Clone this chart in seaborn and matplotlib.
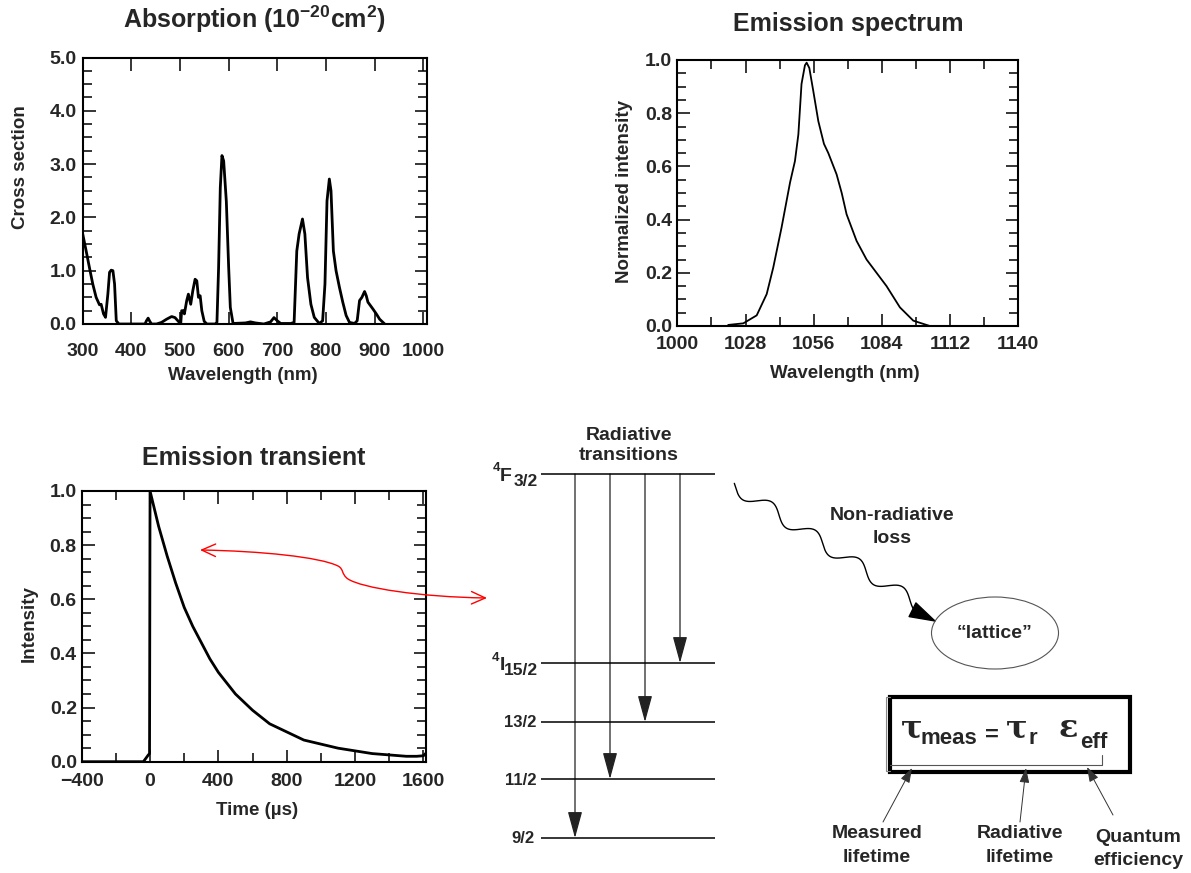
import matplotlib
matplotlib.use("Agg")
import matplotlib.pyplot as plt
import seaborn as sns
import numpy as np
from matplotlib.patches import FancyArrowPatch, Ellipse, Rectangle
from matplotlib.path import Path
from matplotlib.ticker import FixedLocator, FuncFormatter

# ---------------- data ----------------
abs_wl = [300, 306.9, 313.8, 320.7, 327.6, 334.5, 337.9, 342.8, 346.9, 351.7, 355.2, 358.6,
          362.1, 365.5, 369, 374.5, 428, 431, 434.5, 437.9, 441.4, 451.7, 462, 472.4, 482.8,
          489.7, 496.6, 501.4, 503.4, 506.9, 509, 513.8, 517.2, 522, 526.2, 531, 534.5, 537.9,
          541.4, 544.8, 549.7, 555.2, 572.4, 575.9, 579.3, 582.8, 586.2, 589.7, 595.2, 600,
          603.4, 609, 634.5, 644.8, 655, 672.4, 686.2, 693.1, 700, 706.9, 727.6, 734.5, 740,
          744.8, 751.7, 756.6, 762.1, 769, 775.9, 786.2, 793.1, 797.9, 802.1, 806.9, 810.3,
          815.2, 820.7, 827.6, 834.5, 841.4, 848.3, 858.6, 864.1, 869, 873.8, 879.3, 882.8,
          886.2, 896.6, 903.4, 910.3, 920.7]
abs_cs = [1.69, 1.38, 1.06, 0.75, 0.5, 0.36, 0.37, 0.19, 0.125, 0.56, 0.97, 1.01,
          1.0, 0.75, 0.06, 0.0, 0.0, 0.06, 0.11, 0.05, 0.0, 0.0, 0.03, 0.09, 0.14,
          0.12, 0.05, 0.0, 0.25, 0.25, 0.19, 0.44, 0.56, 0.37, 0.62, 0.84, 0.81, 0.5,
          0.53, 0.25, 0.05, 0.0, 0.0, 0.03, 1.06, 2.56, 3.16, 3.06, 2.3, 1.06,
          0.31, 0.01, 0.02, 0.04, 0.02, 0.0, 0.04, 0.12, 0.06, 0.01, 0.01, 0.03, 1.37,
          1.69, 1.97, 1.69, 0.87, 0.37, 0.125, 0.01, 0.06, 0.75, 2.31, 2.72, 2.5,
          1.37, 1.0, 0.69, 0.41, 0.16, 0.03, 0.01, 0.06, 0.44, 0.5, 0.61, 0.53,
          0.41, 0.28, 0.19, 0.09, 0.0]
abs_xticks = [300, 400, 500, 600, 700, 800, 900, 1000]
abs_yticks = [0.0, 1.0, 2.0, 3.0, 4.0, 5.0]

em_wl = [1020.9, 1027.1, 1032.6, 1036.7, 1039.4, 1042.8, 1046.3, 1048.3, 1049.7, 1051.0,
         1052.4, 1053.1, 1054.2, 1055.8, 1057.9, 1060.2, 1062.0, 1065.4, 1067.5, 1069.5,
         1073.6, 1077.7, 1081.8, 1085.9, 1091.4, 1096.9, 1103.7]
em_int = [0.004, 0.01, 0.04, 0.12, 0.22, 0.37, 0.54, 0.62, 0.72, 0.91,
          0.98, 0.99, 0.97, 0.885, 0.77, 0.685, 0.65, 0.57, 0.50, 0.42,
          0.32, 0.25, 0.20, 0.15, 0.07, 0.02, 0.0]
em_xticks = [1000, 1028, 1056, 1084, 1112, 1140]
em_xminor = [1014, 1042, 1070, 1098, 1126]
em_yticks = [0.0, 0.2, 0.4, 0.6, 0.8, 1.0]

tr_t = [-400, -39, -10, -3, 0, 50, 100, 150, 200, 250, 300, 350, 400, 500, 600, 700, 800,
        900, 1000, 1100, 1200, 1300, 1400, 1500, 1560, 1600, 1612]
tr_i = [0, 0, 0.025, 0.03, 1.0, 0.87, 0.76, 0.66, 0.57, 0.50, 0.44, 0.38, 0.33, 0.25, 0.19,
        0.14, 0.11, 0.08, 0.065, 0.05, 0.04, 0.03, 0.025, 0.02, 0.02, 0.022, 0.03]
tr_xticks = [-400, 0, 400, 800, 1200, 1600]
tr_xminor = [-200, 200, 600, 1000, 1400]
tr_yticks = [0.0, 0.2, 0.4, 0.6, 0.8, 1.0]

# energy-level diagram
level_y = [474, 663, 722, 779, 838]          # 4F3/2, 4I15/2, 13/2, 11/2, 9/2
trans_x = [575, 610, 645, 680]
trans_to = [838, 779, 722, 663]

# ---------------- style ----------------
sns.set_style("ticks")
plt.rcParams["font.family"] = ["Liberation Sans", "DejaVu Sans"]
plt.rcParams["font.weight"] = "bold"
plt.rcParams["axes.labelweight"] = "bold"
plt.rcParams["axes.titleweight"] = "bold"
plt.rcParams["mathtext.fontset"] = "custom"
for k in ["rm", "it", "bf", "sf"]:
    plt.rcParams["mathtext." + k] = "Liberation Sans:bold"

W, H = 1191, 873
fig = plt.figure(figsize=(W / 100, H / 100), dpi=100)
fig.patch.set_facecolor("white")


def px_axes(left, top, right, bottom):
    return fig.add_axes([left / W, 1 - bottom / H, (right - left) / W, (bottom - top) / H])


def fmt(decimals):
    def f(v, pos):
        s = f"{v:.{decimals}f}"
        return s.replace("-", "\u2212")
    return FuncFormatter(f)


def minor_steps(lo, hi, step):
    vals = []
    v = lo
    while v <= hi + 1e-9:
        vals.append(round(v, 4))
        v += step
    return vals


def style(ax, xt, xm, yt, ym, xdec, ydec, xpad, ypad):
    for s in ax.spines.values():
        s.set_visible(True)
        s.set_linewidth(1.5)
        s.set_color("black")
    ax.xaxis.set_major_locator(FixedLocator(xt))
    if xm:
        ax.xaxis.set_minor_locator(FixedLocator(xm))
    ax.yaxis.set_major_locator(FixedLocator(yt))
    ax.yaxis.set_minor_locator(FixedLocator(ym))
    ax.xaxis.set_major_formatter(fmt(xdec))
    ax.yaxis.set_major_formatter(fmt(ydec))
    ax.tick_params(which="both", direction="in", top=True, right=True, bottom=True,
                   left=True, width=1.1, color="black", labelsize=14)
    ax.tick_params(which="major", length=9)
    ax.tick_params(which="minor", length=6.5)
    ax.tick_params(axis="x", which="both", pad=xpad)
    ax.tick_params(axis="y", which="both", pad=ypad)
    for lab in ax.get_xticklabels() + ax.get_yticklabels():
        lab.set_fontweight("bold")


# Absorption
ax1 = px_axes(82.7, 57.5, 426.7, 324)
sns.lineplot(x=abs_wl, y=abs_cs, ax=ax1, color="black", linewidth=2.0, estimator=None, sort=False)
ax1.set_xlim(300, 1007)
ax1.set_ylim(0, 5)
style(ax1, abs_xticks, None, abs_yticks, minor_steps(0, 5, 0.25), 0, 1, 13.5, 4.5)
ax1.set_title("Absorption (10$^{-20}$cm$^{2}$)", fontsize=18, fontweight="bold", pad=21)
ax1.set_xlabel("Wavelength (nm)", fontsize=13.5)
ax1.set_ylabel("Cross section", fontsize=13.5)
ax1.xaxis.set_label_coords(0.466, -0.161)
ax1.yaxis.set_label_coords(-0.156, 0.589)

# Emission spectrum
ax2 = px_axes(677.3, 60, 1018.3, 326)
sns.lineplot(x=em_wl, y=em_int, ax=ax2, color="black", linewidth=1.3, estimator=None, sort=False)
ax2.set_xlim(1000, 1140)
ax2.set_ylim(0, 1.0)
style(ax2, em_xticks, em_xminor, em_yticks, minor_steps(0, 1, 0.05), 0, 1, 7.5, 3.8)
ax2.set_title("Emission spectrum", fontsize=18, fontweight="bold", pad=21)
ax2.set_xlabel("Wavelength (nm)", fontsize=13.5)
ax2.set_ylabel("Normalized intensity", fontsize=13.5)
ax2.xaxis.set_label_coords(0.492, -0.147)
ax2.yaxis.set_label_coords(-0.130, 0.504)

# Emission transient
ax3 = px_axes(81.7, 491, 426, 761.7)
sns.lineplot(x=tr_t, y=tr_i, ax=ax3, color="black", linewidth=2.0, estimator=None, sort=False)
ax3.set_xlim(-400, 1615)
ax3.set_ylim(0, 1.0)
style(ax3, tr_xticks, tr_xminor, tr_yticks, minor_steps(0, 1, 0.05), 0, 1, 8.2, 3.5)
ax3.set_title("Emission transient", fontsize=18, fontweight="bold", pad=19)
ax3.set_xlabel("Time (\u00b5s)", fontsize=13.5)
ax3.set_ylabel("Intensity", fontsize=13.5)
ax3.xaxis.set_label_coords(0.509, -0.149)
ax3.yaxis.set_label_coords(-0.127, 0.512)

# ---------------- diagram overlay (pixel coordinates) ----------------
ov = fig.add_axes([0, 0, 1, 1], zorder=10)
ov.set_xlim(0, W)
ov.set_ylim(H, 0)
ov.axis("off")
ov.patch.set_alpha(0)

# energy levels
ov.hlines(level_y, 541, 715, color="black", lw=1.1)
for x, yt in zip(trans_x, trans_to):
    ov.add_patch(FancyArrowPatch((x, level_y[0]), (x, yt),
                                 arrowstyle="-|>,head_length=1.65,head_width=0.45",
                                 mutation_scale=10, lw=0.9, color="#222222",
                                 shrinkA=0, shrinkB=0))

kw = dict(ha="right", va="baseline", fontweight="bold")
ov.text(538, 486, "3/2", fontsize=12.5, **kw)
ov.text(512, 481, "F", fontsize=14, **kw)
ov.text(500, 471, "4", fontsize=9.5, **kw)
ov.text(538, 675, "15/2", fontsize=12.5, **kw)
ov.text(505, 670, "I", fontsize=14, **kw)
ov.text(499, 661, "4", fontsize=9.5, **kw)
ov.text(536, 727, "13/2", fontsize=12, **kw)
ov.text(536, 785, "11/2", fontsize=12, **kw)
ov.text(535, 843, "9/2", fontsize=12, **kw)

ck = dict(ha="center", va="baseline", fontweight="bold", fontsize=14)
ov.text(629, 440, "Radiative", **ck)
ov.text(629, 460, "transitions", **ck)
ov.text(892, 520, "Non-radiative", **ck)
ov.text(892, 543, "loss", **ck)

# red double arrow
red_verts = [(200, 550), (260, 551), (320, 557), (338, 566), (344, 569), (341, 574),
             (348, 579), (362, 588), (420, 597), (487, 598)]
red_codes = [Path.MOVETO] + [Path.CURVE4] * 9
ov.add_patch(FancyArrowPatch(path=Path(red_verts, red_codes),
                             arrowstyle="<->,head_length=1.0,head_width=0.45",
                             mutation_scale=10, color="red", lw=1.0))

# wavy non-radiative path
P0 = np.array([779.0, 515.0])
u = np.array([131.0, 85.0]); u /= np.hypot(*u)
nrm = np.array([-u[1], u[0]])
s = np.linspace(-54.7, 166, 500)
perp = 7.0 * np.sin(2 * np.pi * s / 52.0)
wave = P0[None, :] + s[:, None] * u[None, :] + perp[:, None] * nrm[None, :]
ov.plot(wave[:, 0], wave[:, 1], color="black", lw=1.0)
ov.add_patch(FancyArrowPatch((wave[-1, 0], wave[-1, 1]), (937, 622),
                             arrowstyle="-|>,head_length=1.8,head_width=0.55",
                             mutation_scale=10, lw=1.0, color="black",
                             shrinkA=0, shrinkB=0))

# lattice ellipse
ov.add_patch(Ellipse((995, 633), 127, 72, fill=False, edgecolor="#555555", lw=0.8))
ov.text(995, 638, "\u201clattice\u201d", **ck)

# equation box
ov.plot([890, 886, 886, 890], [697, 697, 771, 771], color="#888888", lw=0.8)
ov.plot([890, 1102, 1102], [765, 765, 755], color="#555555", lw=0.8)
ov.add_patch(Rectangle((890, 697), 240, 75, fill=False, edgecolor="black", lw=3.0))

ek = dict(ha="left", va="baseline")
ov.text(901, 737, "\u03c4", fontsize=23, family="DejaVu Serif", **ek)
ov.text(920, 744, "meas", fontsize=16, fontweight="bold", **ek)
ov.text(985, 742, "=", fontsize=17, fontweight="bold", **ek)
ov.text(1006, 737, "\u03c4", fontsize=23, family="DejaVu Serif", **ek)
ov.text(1029, 744, "r", fontsize=16, fontweight="bold", **ek)
ov.text(1059, 737, "\u03b5", fontsize=23, family="DejaVu Serif", **ek)
ov.text(1080, 748, "eff", fontsize=16, fontweight="bold", **ek)

# labels under the box
ov.text(877, 838, "Measured", **ck)
ov.text(877, 862, "lifetime", **ck)
ov.text(1020, 838, "Radiative", **ck)
ov.text(1020, 862, "lifetime", **ck)
ov.text(1138, 842, "Quantum", **ck)
ov.text(1138, 865, "efficiency", **ck)

small = dict(arrowstyle="-|>,head_length=0.9,head_width=0.3", mutation_scale=10,
             lw=0.7, color="#333333", shrinkA=0, shrinkB=0)
ov.add_patch(FancyArrowPatch((883, 822), (912, 768), **small))
ov.add_patch(FancyArrowPatch((1020, 822), (1026, 768), **small))
ov.add_patch(FancyArrowPatch((1113, 815), (1087, 767), **small))

fig.savefig("out.png", dpi=100, facecolor="white")
